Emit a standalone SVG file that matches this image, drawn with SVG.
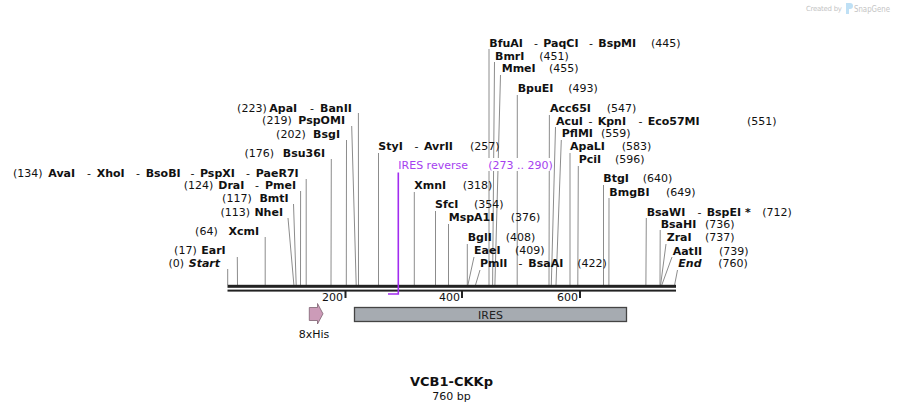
<svg xmlns="http://www.w3.org/2000/svg" width="903" height="412" viewBox="0 0 903 412">
<style>
text{font-family:"DejaVu Sans",Verdana,sans-serif;font-size:11px;white-space:pre;fill:#111}
.b{font-weight:bold}
.bi{font-weight:bold;font-style:italic}
.s{font-weight:normal}
.e{text-anchor:end}
.m{text-anchor:middle}
.ln{stroke:#8c8c8c;stroke-width:1;fill:none}
.pr{fill:#a53ff0}
</style>
<rect width="903" height="412" fill="#fff"/>
<g id="watermark">
<text x="806" y="11" textLength="36" style="font-size:7px;fill:#c4c4c4">Created by</text>
<path d="M846,3 h4 a3,3 0 0 1 0,6 h-1 v5 h-3 z" fill="#bfe0f5"/>
<text x="854" y="12" textLength="36" lengthAdjust="spacingAndGlyphs" style="font-size:9px;fill:#c4c4c4">SnapGene</text>
</g>
<g id="connectors">
<line class="ln" x1="227.7" y1="269" x2="227.7" y2="285"/>
<line class="ln" x1="237.3" y1="257" x2="237.5" y2="285"/>
<line class="ln" x1="265.2" y1="237" x2="265.2" y2="285"/>
<line class="ln" x1="288" y1="218" x2="293.9" y2="285"/>
<line class="ln" x1="293.5" y1="204" x2="296.2" y2="285"/>
<line class="ln" x1="300.6" y1="191" x2="300.5" y2="285"/>
<line class="ln" x1="306.2" y1="179" x2="306.2" y2="285"/>
<line class="ln" x1="331.3" y1="159" x2="331" y2="285"/>
<line class="ln" x1="346.5" y1="140" x2="346.3" y2="285"/>
<line class="ln" x1="351.7" y1="126" x2="356.2" y2="285"/>
<line class="ln" x1="358.4" y1="113" x2="358.5" y2="285"/>
<line class="ln" x1="378.5" y1="153" x2="378.5" y2="285"/>
<line class="ln" x1="414.3" y1="192" x2="414.3" y2="285"/>
<line class="ln" x1="435.5" y1="211" x2="435.5" y2="285"/>
<line class="ln" x1="448.5" y1="224" x2="448.5" y2="285"/>
<line class="ln" x1="467.3" y1="244" x2="467.3" y2="285"/>
<line class="ln" x1="474" y1="257" x2="467.9" y2="285"/>
<line class="ln" x1="480" y1="270" x2="475.5" y2="285"/>
<line class="ln" x1="489" y1="49" x2="489" y2="285"/>
<line class="ln" x1="494.5" y1="62" x2="492.6" y2="285"/>
<line class="ln" x1="500.5" y1="75" x2="494.9" y2="285"/>
<line class="ln" x1="517.3" y1="95" x2="517.2" y2="285"/>
<line class="ln" x1="549.4" y1="115" x2="549" y2="285"/>
<line class="ln" x1="555.5" y1="127" x2="551.3" y2="285"/>
<line class="ln" x1="561.3" y1="140" x2="556" y2="285"/>
<line class="ln" x1="570" y1="153" x2="570" y2="285"/>
<line class="ln" x1="578.3" y1="166" x2="577.8" y2="285"/>
<line class="ln" x1="603.5" y1="185" x2="603.5" y2="285"/>
<line class="ln" x1="609" y1="198" x2="608.9" y2="285"/>
<line class="ln" x1="646.3" y1="218" x2="645.9" y2="285"/>
<line class="ln" x1="660.2" y1="230" x2="660" y2="285"/>
<line class="ln" x1="666" y1="244" x2="660.6" y2="285"/>
<line class="ln" x1="672" y1="257" x2="661.8" y2="285"/>
<line class="ln" x1="677.5" y1="270" x2="674.6" y2="285"/>
</g>
<g id="backbone">
<rect x="227.5" y="284.8" width="448.5" height="3" fill="#222"/>
<rect x="227.5" y="289.6" width="448.5" height="2" fill="#222"/>
<rect x="344.5" y="291" width="2" height="7" fill="#222"/>
<rect x="461" y="291" width="2" height="7" fill="#222"/>
<rect x="579" y="291" width="2" height="7" fill="#222"/>
<text class="e" x="343" y="301">200</text>
<text class="e" x="460" y="301">400</text>
<text class="e" x="578" y="301">600</text>
</g>
<g id="primer-IRES-reverse">
<path d="M398.3,172.5 V294 H388" stroke="#a22cf0" stroke-width="1.6" fill="none"/>
<rect x="397" y="158" width="153" height="13" fill="#fff"/>
<text class="pr" x="398.3" y="169">IRES reverse</text>
<text class="pr" x="488.3" y="169">(273 .. 290)</text>
</g>
<g id="feature-8xHis">
<path d="M309.3,307.5 H317.5 V303.5 L323,313.8 L317.5,324 V320.5 H309.3 Z" fill="#cc9bb8" stroke="#7d6271" stroke-width="0.8"/>
<text class="m" x="314" y="338">8xHis</text>
</g>
<g id="feature-IRES">
<rect x="354.5" y="307.5" width="272" height="14" fill="#a6abb1" stroke="#444" stroke-width="1.3"/>
<text class="m" x="490.5" y="318.5" style="fill:#222">IRES</text>
</g>
<g id="site-Start"><text class="e" x="184" y="267">(0)</text><text class="e bi" x="220" y="267">Start</text></g>
<g id="site-EarI"><text class="e" x="196.7" y="254">(17)</text><text class="e b" x="225.7" y="254">EarI</text></g>
<g id="site-XcmI"><text class="e" x="217.7" y="234.5">(64)</text><text class="e b" x="259" y="234.5">XcmI</text></g>
<g id="site-NheI"><text class="e" x="250" y="215.8">(113)</text><text class="e b" x="283" y="215.8">NheI</text></g>
<g id="site-BmtI"><text class="e" x="251.7" y="202">(117)</text><text class="e b" x="288.7" y="202">BmtI</text></g>
<g id="site-DraI"><text class="e" x="213.3" y="189.3">(124)</text><text class="b" y="189.3"><tspan x="218.3">DraI</tspan><tspan class="s" x="255">-</tspan><tspan x="265">PmeI</tspan></text></g>
<g id="site-AvaI"><text x="13" y="177.3">(134)</text><text class="b" y="177.3"><tspan x="48.3">AvaI</tspan><tspan class="s" x="87">-</tspan><tspan x="96.7">XhoI</tspan><tspan class="s" x="136">-</tspan><tspan x="145.7">BsoBI</tspan><tspan class="s" x="190.5">-</tspan><tspan x="200">PspXI</tspan><tspan class="s" x="246">-</tspan><tspan x="255.8">PaeR7I</tspan></text></g>
<g id="site-Bsu36I"><text class="e" x="274" y="156.5">(176)</text><text class="e b" x="325" y="156.5">Bsu36I</text></g>
<g id="site-BsgI"><text class="e" x="305.7" y="137.8">(202)</text><text class="e b" x="340" y="137.8">BsgI</text></g>
<g id="site-PspOMI"><text class="e" x="291.7" y="124">(219)</text><text class="e b" x="345" y="124">PspOMI</text></g>
<g id="site-ApaI"><text class="e" x="266.7" y="111.5">(223)</text><text class="b" y="111.5"><tspan x="269.3">ApaI</tspan><tspan class="s" x="310">-</tspan><tspan x="320">BanII</tspan></text></g>
<g id="site-StyI"><text class="b" y="150"><tspan x="378.3">StyI</tspan><tspan class="s" x="414.5">-</tspan><tspan x="424">AvrII</tspan></text><text x="470" y="150">(257)</text></g>
<g id="site-XmnI"><text class="b" x="414.3" y="189">XmnI</text><text x="462.7" y="189">(318)</text></g>
<g id="site-SfcI"><text class="b" x="435" y="208">SfcI</text><text x="474" y="208">(354)</text></g>
<g id="site-MspA1I"><text class="b" x="448.7" y="221.3">MspA1I</text><text x="510.7" y="221.3">(376)</text></g>
<g id="site-BglI"><text class="b" x="467.7" y="241.3">BglI</text><text x="505.7" y="241.3">(408)</text></g>
<g id="site-EaeI"><text class="b" x="474" y="254">EaeI</text><text x="515" y="254">(409)</text></g>
<g id="site-PmlI"><text class="b" y="267.3"><tspan x="480">PmlI</tspan><tspan class="s" x="518.5">-</tspan><tspan x="528.3">BsaAI</tspan></text><text x="577.3" y="267.3">(422)</text></g>
<g id="site-BfuAI"><text class="b" y="46.7"><tspan x="489.3">BfuAI</tspan><tspan class="s" x="534">-</tspan><tspan x="543.3">PaqCI</tspan><tspan class="s" x="589">-</tspan><tspan x="598.3">BspMI</tspan></text><text x="651" y="46.7">(445)</text></g>
<g id="site-BmrI"><text class="b" x="495" y="59.7">BmrI</text><text x="539.3" y="59.7">(451)</text></g>
<g id="site-MmeI"><text class="b" x="501.7" y="72.3">MmeI</text><text x="549" y="72.3">(455)</text></g>
<g id="site-BpuEI"><text class="b" x="517.7" y="92.3">BpuEI</text><text x="568.3" y="92.3">(493)</text></g>
<g id="site-Acc65I"><text class="b" x="550" y="112.3">Acc65I</text><text x="606.7" y="112.3">(547)</text></g>
<g id="site-AcuI"><text class="b" y="124.7"><tspan x="556">AcuI</tspan><tspan class="s" x="588.5">-</tspan><tspan x="597.7">KpnI</tspan><tspan class="s" x="638.5">-</tspan><tspan x="647.7">Eco57MI</tspan></text><text x="747" y="124.7">(551)</text></g>
<g id="site-PflMI"><text class="b" x="561.7" y="137.3">PflMI</text><text x="601" y="137.3">(559)</text></g>
<g id="site-ApaLI"><text class="b" x="570" y="150">ApaLI</text><text x="621.7" y="150">(583)</text></g>
<g id="site-PciI"><text class="b" x="578.7" y="163.3">PciI</text><text x="615" y="163.3">(596)</text></g>
<g id="site-BtgI"><text class="b" x="603.3" y="182.3">BtgI</text><text x="642.7" y="182.3">(640)</text></g>
<g id="site-BmgBI"><text class="b" x="609.3" y="195.7">BmgBI</text><text x="666" y="195.7">(649)</text></g>
<g id="site-BsaWI"><text class="b" y="215.7"><tspan x="646.7">BsaWI</tspan><tspan class="s" x="697.5">-</tspan><tspan x="706.7">BspEI *</tspan></text><text x="762.3" y="215.7">(712)</text></g>
<g id="site-BsaHI"><text class="b" x="660.7" y="227.5">BsaHI</text><text x="705" y="227.5">(736)</text></g>
<g id="site-ZraI"><text class="b" x="666.7" y="241.3">ZraI</text><text x="705" y="241.3">(737)</text></g>
<g id="site-AatII"><text class="b" x="672.7" y="254.7">AatII</text><text x="719" y="254.7">(739)</text></g>
<g id="site-End"><text class="bi" x="678.3" y="267.3">End</text><text x="718.3" y="267.3">(760)</text></g>
<g id="title">
<text class="m b" x="451.5" y="386" style="font-size:13px">VCB1-CKKp</text>
<text class="m" x="451.5" y="400">760 bp</text>
</g>
</svg>
